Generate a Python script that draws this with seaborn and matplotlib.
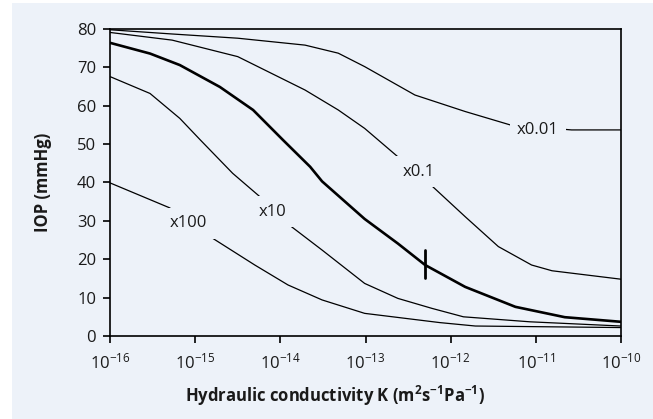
import numpy as np
import pandas as pd
import matplotlib
matplotlib.use("Agg")
import matplotlib.pyplot as plt
import matplotlib.ticker as mticker
from matplotlib.patches import Rectangle
import seaborn as sns

# ---- data (log10 of hydraulic conductivity K, IOP in mmHg) ----
logk_x001 = [-16, -15.27, -14.50, -13.71, -13.32, -13.01, -12.42, -11.83, -11.30, -10.58, -10]
iop_x001 = [79.8, 78.7, 77.6, 75.8, 73.7, 70.2, 62.8, 58.5, 55.0, 53.7, 53.7]

logk_x01 = [-16, -15.27, -14.50, -13.71, -13.32, -13.01, -12.62, -12.21, -11.83, -11.44, -11.05, -10.81, -10]
iop_x01 = [79.1, 77.1, 72.8, 64.1, 58.9, 54.1, 46.7, 38.9, 31.1, 23.3, 18.5, 17.0, 14.8]

logk_base = [-16, -15.53, -15.18, -14.71, -14.32, -13.97, -13.65, -13.51, -13.01, -12.62, -12.30,
             -11.83, -11.24, -10.66, -10]
iop_base = [76.4, 73.6, 70.6, 64.9, 58.9, 51.1, 44.1, 40.3, 30.5, 24.1, 18.5, 12.8, 7.6, 4.9, 3.7]

logk_x10 = [-16, -15.53, -15.18, -14.94, -14.56, -14.24, -13.87, -13.51, -13.01, -12.62, -12.22,
            -11.85, -11.07, -10]
iop_x10 = [67.6, 63.2, 56.7, 51.1, 42.4, 36.3, 28.5, 22.4, 13.7, 9.8, 7.2, 5.0, 3.7, 2.6]

logk_x100 = [-16, -15.30, -14.79, -14.30, -13.91, -13.51, -13.01, -12.13, -11.71, -10]
iop_x100 = [39.9, 33.4, 25.4, 18.5, 13.3, 9.4, 5.9, 3.5, 2.6, 2.2]

series_names = ["x0.01", "x0.1", "base", "x10", "x100"]
label_text = ["x0.01", "x0.1", "x10", "x100"]
label_logk = [-10.975, -12.38, -14.09, -15.08]
label_iop = [53.7, 42.8, 32.4, 29.4]

marker_logk = -12.30          # K = 5e-13 on the baseline curve
marker_iop = [15.0, 22.4]

x_tick_exp = [-16, -15, -14, -13, -12, -11, -10]
y_ticks = [0, 10, 20, 30, 40, 50, 60, 70, 80]

BG = "#edf2f9"
TXT = "#1a1a1a"
FS = 12

rows = []
for name, lk, iop in zip(series_names,
                         [logk_x001, logk_x01, logk_base, logk_x10, logk_x100],
                         [iop_x001, iop_x01, iop_base, iop_x10, iop_x100]):
    for a, b in zip(lk, iop):
        rows.append({"series": name, "K": 10.0 ** a, "IOP": b})
df = pd.DataFrame(rows)

sns.set_theme(style="white")
plt.rcParams["font.family"] = ["Open Sans", "DejaVu Sans"]
plt.rcParams["mathtext.default"] = "regular"

fig = plt.figure(figsize=(6.53, 4.19), dpi=100, facecolor="white")
fig.patches.append(Rectangle((12 / 653, 0), 1 - 12 / 653, (419 - 3) / 419,
                             transform=fig.transFigure, facecolor=BG,
                             edgecolor="none", zorder=-10))
ax = fig.add_axes([110 / 653, (419 - 336) / 419, (621 - 110) / 653, (336 - 29) / 419])
ax.set_facecolor(BG)

for name in series_names:
    lw = 1.9 if name == "base" else 0.9
    sns.lineplot(data=df[df["series"] == name], x="K", y="IOP", ax=ax,
                 color="black", linewidth=lw, sort=False, estimator=None, zorder=2)

ax.plot([10.0 ** marker_logk] * 2, marker_iop, color="black", linewidth=2.0, zorder=3)

for t, lk, v in zip(label_text, label_logk, label_iop):
    ax.text(10.0 ** lk, v, t, ha="center", va="center", fontsize=FS, color=TXT,
            zorder=4, bbox=dict(boxstyle="square,pad=0.45", facecolor=BG, edgecolor="none"))

ax.set_xscale("log")
ax.set_xlim(1e-16, 1e-10)
ax.set_ylim(0, 80)
ax.xaxis.set_major_locator(mticker.FixedLocator([10.0 ** e for e in x_tick_exp]))
ax.xaxis.set_minor_locator(mticker.NullLocator())
ax.set_xticklabels([r"10$^{%d}$" % e for e in x_tick_exp])
ax.set_yticks(y_ticks)

for s in ax.spines.values():
    s.set_visible(True)
    s.set_color("black")
    s.set_linewidth(1.2)
ax.tick_params(axis="both", which="major", direction="out", length=5, width=1.2,
               color="black", labelsize=FS, labelcolor=TXT,
               bottom=True, left=True, top=False, right=False)
ax.tick_params(axis="x", pad=7)
ax.tick_params(axis="y", pad=5)

ax.set_xlabel(r"Hydraulic conductivity K (m$^{2}$s$^{-1}$Pa$^{-1}$)", fontsize=FS,
              fontweight="bold", color=TXT)
ax.set_ylabel("IOP (mmHg)", fontsize=FS, fontweight="bold", color=TXT)
ax.xaxis.set_label_coords((335 - 110) / (621 - 110), -(396 - 336) / (336 - 29))
ax.yaxis.set_label_coords(-(110 - 43) / (621 - 110), 0.5)
ax.xaxis.label.set_va("center")
ax.yaxis.label.set_va("center")

fig.savefig("out.png", dpi=100, facecolor=fig.get_facecolor())
